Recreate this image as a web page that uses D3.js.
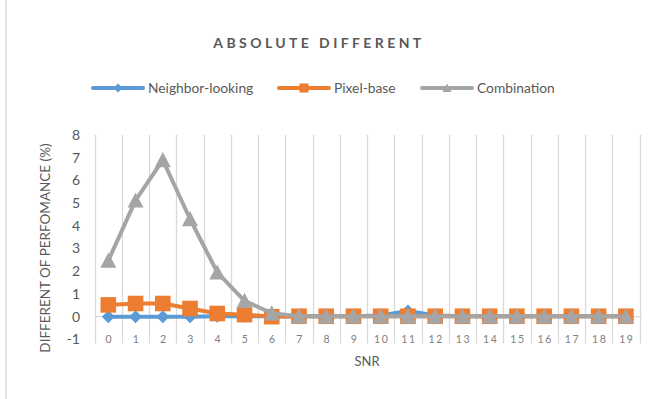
<!DOCTYPE html>
<html>
<head>
<meta charset="utf-8">
<script src="https://cdn.jsdelivr.net/npm/d3@7"></script>
<style>
  html, body { margin: 0; padding: 0; background: #fff; }
  svg { display: block; }
  text { font-family: Lato, "Open Sans", sans-serif; fill: #595959; }
</style>
</head>
<body>
<svg id="chart" width="663" height="399"></svg>
<script>
// SNR categories along the x axis
const snr = d3.range(0, 20).map(String);
// Absolute performance difference (%) per method
const neighborLooking = [0, 0, 0, 0, 0.02, 0.02, 0.02, 0.02, 0.02, 0.02, 0.05, 0.25, 0.05, 0.02, 0.02, 0.02, 0.02, 0.02, 0.02, 0.02];
const pixelBase       = [0.52, 0.58, 0.58, 0.36, 0.14, 0.09, 0.0, 0.02, 0.02, 0.02, 0.02, 0.02, 0.02, 0.02, 0.02, 0.02, 0.02, 0.02, 0.02, 0.02];
const combination     = [2.47, 5.12, 6.9, 4.3, 1.95, 0.7, 0.15, 0.02, 0.02, 0.02, 0.02, 0.02, 0.02, 0.02, 0.02, 0.02, 0.02, 0.02, 0.02, 0.02];
const yTicks = [-1, 0, 1, 2, 3, 4, 5, 6, 7, 8];

const seriesNames = ["Neighbor-looking", "Pixel-base", "Combination"];
const seriesColors = ["#5B9BD5", "#ED7D31", "#A5A5A5"];
const seriesValues = [neighborLooking, pixelBase, combination];
const seriesShapes = ["diamond", "square", "triangle"];

const svg = d3.select("#chart");
const grid = "#d9d9d9";

const x = d3.scaleBand().domain(snr).range([94.7, 639.5]);
const y = d3.scaleLinear().domain([-1, 8]).range([339.4, 135]);

// outer frame edge
svg.append("line").attr("x1", 6).attr("x2", 6).attr("y1", 0).attr("y2", 399)
  .attr("stroke", grid).attr("stroke-width", 1.5);

// title
svg.append("text").attr("x", 319).attr("y", 48).attr("text-anchor", "middle")
  .style("font-size", "14px").style("font-weight", "bold").style("letter-spacing", "3.4px")
  .text("ABSOLUTE DIFFERENT");

// vertical gridlines at category boundaries
const bounds = snr.map(d => x(d)).concat([x.range()[1]]);
svg.append("g").selectAll("line").data(bounds).join("line")
  .attr("x1", d => Math.round(d) + 0.5).attr("x2", d => Math.round(d) + 0.5)
  .attr("y1", y(8)).attr("y2", y(-1) + 4)
  .attr("stroke", grid).attr("stroke-width", 1.3);

// horizontal axis at zero
svg.append("line").attr("x1", x.range()[0]).attr("x2", x.range()[1] + 2)
  .attr("y1", y(0)).attr("y2", y(0)).attr("stroke", grid).attr("stroke-width", 1.3);

// y tick labels
svg.append("g").selectAll("text").data(yTicks).join("text")
  .attr("x", 80).attr("y", d => y(d)).attr("dy", "0.35em").attr("text-anchor", "end")
  .style("font-size", "14px").text(d => d);

// x tick labels
svg.append("g").selectAll("text").data(snr).join("text")
  .attr("x", d => x(d) + x.bandwidth() / 2 + 1).attr("y", y(-1)).attr("dy", "0.35em")
  .attr("text-anchor", "middle").style("font-size", "10.5px").style("letter-spacing", "1.6px")
  .style("fill", "#808080").text(d => d);

// axis titles
svg.append("text").attr("x", 367).attr("y", 366).attr("text-anchor", "middle")
  .style("font-size", "13px").text("SNR");
svg.append("text").attr("transform", "translate(50,248) rotate(-90)").attr("text-anchor", "middle")
  .style("font-size", "13.5px").text("DIFFERENT OF PERFOMANCE (%)");

function marker(shape, s) {
  if (shape === "diamond") return `M0,${-s}L${s},0L0,${s}L${-s},0Z`;
  if (shape === "square") return `M${-s},${-s}H${s}V${s}H${-s}Z`;
  return `M0,${-s}L${s},${s * 0.9}L${-s},${s * 0.9}Z`;
}
const markerSize = { diamond: 6.5, square: 7.8, triangle: 8 };

const line = d3.line().x((d, i) => x(snr[i]) + x.bandwidth() / 2).y(d => y(d));

seriesValues.forEach((vals, k) => {
  const g = svg.append("g");
  g.append("path").attr("d", line(vals)).attr("fill", "none")
    .attr("stroke", seriesColors[k]).attr("stroke-width", 4).attr("stroke-linejoin", "round");
  g.selectAll("path.m").data(vals).join("path").attr("class", "m")
    .attr("transform", (d, i) => `translate(${x(snr[i]) + x.bandwidth() / 2},${y(d)})`)
    .attr("d", marker(seriesShapes[k], markerSize[seriesShapes[k]]))
    .attr("fill", seriesColors[k]);
});

// legend
const legendX = [93, 279, 422];
seriesNames.forEach((name, k) => {
  const g = svg.append("g").attr("transform", `translate(${legendX[k]},88)`);
  g.append("line").attr("x1", 0).attr("x2", 50).attr("stroke", seriesColors[k])
    .attr("stroke-width", 4).attr("stroke-linecap", "round");
  g.append("path").attr("transform", "translate(25,0)")
    .attr("d", marker(seriesShapes[k], 4.5)).attr("fill", seriesColors[k]);
  g.append("text").attr("x", 55).attr("dy", "0.35em").style("font-size", "13.8px").text(name);
});
</script>
</body>
</html>
